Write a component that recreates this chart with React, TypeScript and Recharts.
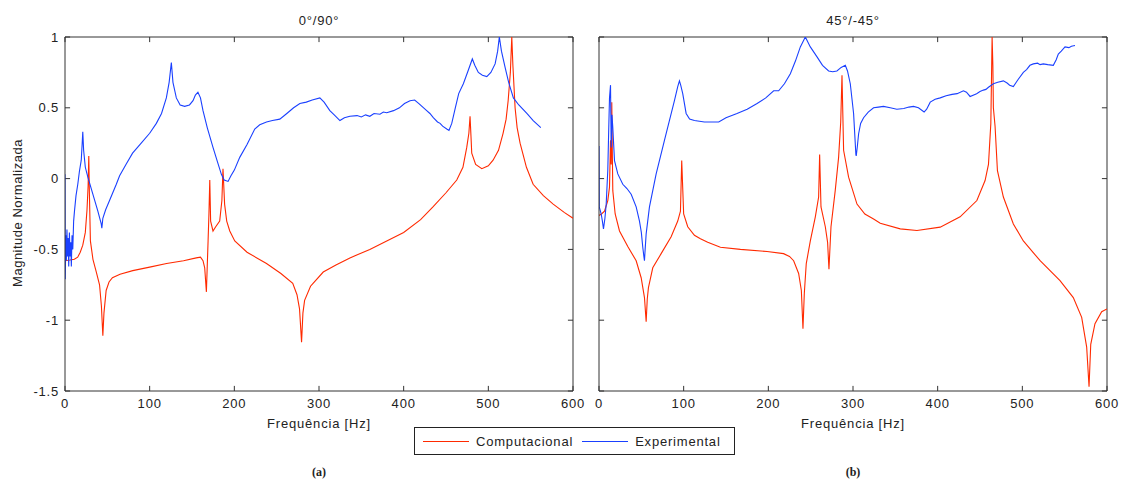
import { Line, LineChart, ReferenceLine, XAxis, YAxis } from 'recharts'

type Pt = [number, number]

const freqTicks = [0, 100, 200, 300, 400, 500, 600]
const magTicks = [-1.5, -1, -0.5, 0, 0.5, 1]
const panelTitles = ['0°/90°', '45°/-45°']
const panelTags = ['(a)', '(b)']
const seriesNames = ['Computacional', 'Experimental']
const seriesColors = ['#ff2a00', '#1a40ff']

// (a) 0°/90° — computed FRF
const compA: Pt[] = [
  [0, -0.58], [6, -0.575], [11, -0.57], [15, -0.555], [18, -0.52], [21, -0.47], [24, -0.38], [26, -0.22],
  [27.3, -0.05], [28.1, 0.16], [28.8, -0.1], [30, -0.44], [33, -0.57], [37, -0.66], [40.8, -0.75], [43, -0.9],
  [44.7, -1.11], [46, -0.95], [48.6, -0.79], [52, -0.73], [56, -0.7], [65, -0.675], [80, -0.65], [100, -0.625],
  [120, -0.6], [140, -0.58], [155, -0.56], [160, -0.555], [163, -0.58], [165, -0.63], [167, -0.8], [168, -0.62],
  [169, -0.44], [170, -0.25], [171, -0.01], [172, -0.3], [174.8, -0.37], [178, -0.34], [182.7, -0.3], [185.3, -0.155],
  [186.6, 0.07], [188.5, -0.18], [191, -0.3], [194.6, -0.37], [200.5, -0.44], [215, -0.52], [238, -0.6], [255, -0.67],
  [269, -0.74], [274, -0.82], [277, -0.92], [279.4, -1.155], [281, -0.95], [283, -0.86], [290, -0.76], [293, -0.74],
  [305, -0.66], [320, -0.61], [336.5, -0.56], [360, -0.5], [380, -0.44], [400, -0.38], [420, -0.29], [434.6, -0.2],
  [450, -0.1], [462.7, -0.01], [470, 0.08], [474.5, 0.22], [477, 0.32], [478.4, 0.44], [479.5, 0.3], [480.4, 0.18],
  [485, 0.1], [492.3, 0.07], [500, 0.09], [505.6, 0.13], [512, 0.2], [517.4, 0.32], [521, 0.42], [523.4, 0.55],
  [526, 0.75], [527.7, 1.0], [529, 0.8], [531.6, 0.5], [534, 0.36], [537.5, 0.25], [545, 0.08], [552.9, -0.04],
  [565, -0.12], [576.6, -0.18], [590, -0.24], [600, -0.28],
]

// (a) 0°/90° — measured FRF
const expA: Pt[] = [
  [0, 0.03], [0.3, -0.71], [1, -0.4], [1.6, -0.58], [2.3, -0.36], [3, -0.55], [3.7, -0.42], [4.4, -0.62],
  [5.2, -0.38], [6, -0.55], [6.8, -0.45], [7.5, -0.62], [8.3, -0.4], [9.2, -0.5], [10.2, -0.3], [11.2, -0.23],
  [13, -0.12], [15.1, -0.04], [17, 0.05], [19.2, 0.13], [20.3, 0.25], [21, 0.33], [22, 0.2], [24, 0.08],
  [27, 0.01], [32.9, -0.11], [38.8, -0.23], [42.8, -0.32], [43.5, -0.35], [44.7, -0.28], [48, -0.22], [52.6, -0.155],
  [60.6, -0.04], [64.5, 0.02], [72, 0.1], [79.8, 0.18], [90, 0.25], [100, 0.32], [107.9, 0.39], [114, 0.46],
  [119.7, 0.57], [123, 0.68], [125.6, 0.82], [127.5, 0.68], [131.5, 0.57], [136, 0.52], [141.3, 0.51], [147, 0.52],
  [151.2, 0.55], [154, 0.59], [157, 0.61], [160, 0.57], [163, 0.48], [168, 0.36], [174.8, 0.22], [180, 0.12],
  [184.7, 0.03], [188, -0.01], [192.6, -0.02], [196, 0.02], [200, 0.06], [206.4, 0.15], [215, 0.24], [224.1, 0.35],
  [230, 0.38], [238, 0.4], [245, 0.41], [253.7, 0.42], [262, 0.46], [270, 0.5], [277.4, 0.53], [285, 0.54],
  [292, 0.555], [301, 0.57], [306, 0.54], [312.8, 0.48], [318, 0.45], [324.7, 0.41], [330, 0.43], [336.5, 0.44],
  [345, 0.445], [350, 0.435], [355, 0.45], [360, 0.44], [365, 0.46], [372, 0.455], [376, 0.47], [380, 0.465],
  [388, 0.48], [395, 0.5], [401, 0.53], [407.5, 0.55], [413, 0.555], [418, 0.53], [427.2, 0.48], [431, 0.46],
  [435, 0.43], [440, 0.4], [443, 0.39], [446, 0.37], [450.9, 0.35], [453.5, 0.34], [456.8, 0.39], [461, 0.5],
  [465, 0.6], [470.5, 0.67], [476, 0.76], [481.1, 0.845], [484, 0.8], [488.2, 0.75], [493, 0.73], [498.2, 0.72],
  [503, 0.75], [508, 0.81], [511, 0.9], [513, 1.0], [515.5, 0.9], [519.8, 0.785], [524, 0.68], [529.6, 0.57],
  [536, 0.52], [545.5, 0.46], [553, 0.41], [562, 0.36],
]

// (b) 45°/-45° — computed FRF
const compB: Pt[] = [
  [0, -0.26], [3, -0.25], [6.5, -0.23], [10.4, -0.155], [12.4, -0.06], [13.6, 0.27], [14.4, 0.1], [15.1, 0.54],
  [15.7, 0.2], [16.3, -0.085], [19.1, -0.25], [24.2, -0.37], [34, -0.48], [43.9, -0.58], [49.8, -0.7], [53.7, -0.84],
  [55.7, -1.01], [57, -0.85], [58.4, -0.77], [63.5, -0.63], [73.4, -0.53], [85.2, -0.41], [93, -0.3], [96.2, -0.23],
  [97.7, 0.127], [100, -0.25], [104.8, -0.34], [112.7, -0.4], [119.8, -0.425], [128.4, -0.45], [143.4, -0.485], [167, -0.5],
  [198.5, -0.515], [218, -0.53], [225, -0.55], [229.9, -0.58], [235.8, -0.67], [239, -0.79], [240.9, -1.06], [242.5, -0.81],
  [244.8, -0.6], [249.6, -0.44], [255.5, -0.27], [259.4, -0.13], [260.6, 0.17], [262.2, -0.2], [267.3, -0.34], [270, -0.45],
  [271.6, -0.64], [274, -0.34], [279, -0.085], [283, 0.15], [285.5, 0.4], [287, 0.73], [288.9, 0.2], [294.8, 0.01],
  [304.7, -0.18], [314, -0.25], [324.3, -0.285], [332.2, -0.315], [355.8, -0.355], [375.5, -0.367], [403, -0.343], [426.5, -0.27],
  [446.3, -0.155], [456, -0.014], [460, 0.1], [462.8, 0.39], [464.3, 1.0], [465.2, 0.8], [465.8, 0.5], [467.8, 0.37],
  [470.6, 0.056], [477.6, -0.13], [489.4, -0.32], [501.2, -0.44], [521, -0.58], [544.5, -0.72], [560.2, -0.84], [570.1, -0.98],
  [576, -1.19], [578.8, -1.47], [580.8, -1.17], [585.8, -1.025], [593.7, -0.94], [600, -0.92],
]

// (b) 45°/-45° — measured FRF
const expB: Pt[] = [
  [0, 0.23], [0.3, -0.2], [2.6, -0.25], [4, -0.3], [5.3, -0.355], [7, -0.28], [8.5, -0.18], [10.4, 0.06],
  [11.5, 0.35], [12.4, 0.57], [13.6, 0.66], [14.4, 0.22], [15.3, 0.45], [16.3, 0.36], [18.3, 0.127], [22.2, 0.033],
  [28.1, -0.04], [33, -0.07], [38, -0.11], [43.9, -0.2], [47.8, -0.3], [50, -0.38], [51.7, -0.485], [53, -0.55],
  [53.7, -0.58], [54.5, -0.5], [55.7, -0.39], [59.6, -0.2], [67.5, 0.033], [77.3, 0.27], [89.1, 0.55], [93, 0.65],
  [95, 0.69], [96.5, 0.66], [98.9, 0.6], [102.9, 0.46], [107, 0.42], [112.7, 0.41], [124.5, 0.4], [136.3, 0.4],
  [141.4, 0.4], [150, 0.43], [163, 0.46], [175, 0.49], [186.7, 0.53], [197, 0.57], [206.3, 0.62], [212.2, 0.62],
  [219, 0.67], [226, 0.74], [232, 0.83], [237.8, 0.93], [243.7, 1.0], [249.6, 0.93], [257.5, 0.86], [264, 0.8],
  [271.2, 0.76], [276, 0.755], [281, 0.76], [286, 0.785], [290.9, 0.8], [293.5, 0.76], [296.8, 0.67], [300.7, 0.46],
  [303.4, 0.17], [303.8, 0.16], [305, 0.22], [306.6, 0.315], [309, 0.39], [312.5, 0.43], [318, 0.47], [324.3, 0.5],
  [330, 0.505], [336, 0.51], [344, 0.5], [351.8, 0.49], [360, 0.495], [366, 0.505], [371.5, 0.51], [377.3, 0.5],
  [384, 0.47], [387, 0.49], [391.2, 0.54], [397, 0.56], [403, 0.57], [410, 0.585], [417, 0.595], [423, 0.6],
  [430.4, 0.62], [434, 0.61], [438.3, 0.58], [446, 0.6], [450, 0.615], [454, 0.625], [457, 0.63], [460, 0.645],
  [465.8, 0.67], [471, 0.68], [477.6, 0.69], [482, 0.675], [485, 0.66], [489.4, 0.65], [495, 0.7], [501.2, 0.75],
  [505, 0.77], [509, 0.8], [513, 0.81], [518, 0.815], [521, 0.805], [524.8, 0.81], [530, 0.805], [536.6, 0.8],
  [540, 0.84], [542.5, 0.88], [546, 0.9], [550.4, 0.93], [555, 0.925], [558, 0.935], [562.2, 0.94],
]

const toRows = (pts: Pt[]) => pts.map(([f, v]) => ({ f, v }))

const FONT = '"Liberation Sans", Arial, sans-serif'
const AXIS = '#333'
const tickText = { fontSize: 13, fill: '#222', fontFamily: FONT }
const F_MIN = 0, F_MAX = 600, M_MIN = -1.5, M_MAX = 1
const TICK_F = 6      // inward tick length in Hz
const TICK_M = 0.036  // inward tick length in magnitude units

function Panel({ comp, exp, width, yWidth, right, showY }: {
  comp: Pt[]; exp: Pt[]; width: number; yWidth: number; right: number; showY: boolean
}) {
  const seg = (a: [number, number], b: [number, number], k: string) => (
    <ReferenceLine key={k} xAxisId="b" yAxisId="l" stroke={AXIS} strokeWidth={1}
      segment={[{ x: a[0], y: a[1] }, { x: b[0], y: b[1] }]} />
  )
  return (
    <LineChart width={width} height={479} margin={{ top: 37, right, bottom: 0, left: 0 }}>
      <XAxis xAxisId="b" dataKey="f" type="number" domain={[F_MIN, F_MAX]} ticks={freqTicks} interval={0}
        height={88} tickSize={0} tickLine={false} tickMargin={8} stroke={AXIS} tick={tickText} allowDataOverflow />
      <YAxis yAxisId="l" type="number" domain={[M_MIN, M_MAX]} ticks={magTicks} interval={0} width={yWidth}
        tickSize={0} tickLine={false} tickMargin={6} stroke={AXIS} tick={showY ? tickText : false} allowDataOverflow />
      {/* box */}
      <ReferenceLine xAxisId="b" yAxisId="l" x={F_MAX} stroke={AXIS} />
      <ReferenceLine xAxisId="b" yAxisId="l" y={M_MAX} stroke={AXIS} />
      {/* inward ticks on all four sides */}
      {freqTicks.map((f) => seg([f, M_MIN], [f, M_MIN + TICK_M], 'bt' + f))}
      {freqTicks.map((f) => seg([f, M_MAX], [f, M_MAX - TICK_M], 'tt' + f))}
      {magTicks.map((m) => seg([F_MIN, m], [F_MIN + TICK_F, m], 'lt' + m))}
      {magTicks.map((m) => seg([F_MAX, m], [F_MAX - TICK_F, m], 'rt' + m))}
      <Line xAxisId="b" yAxisId="l" data={toRows(comp)} dataKey="v" name={seriesNames[0]} type="linear"
        stroke={seriesColors[0]} strokeWidth={1.1} dot={false} isAnimationActive={false} />
      <Line xAxisId="b" yAxisId="l" data={toRows(exp)} dataKey="v" name={seriesNames[1]} type="linear"
        stroke={seriesColors[1]} strokeWidth={1.1} dot={false} isAnimationActive={false} />
    </LineChart>
  )
}

const abs = (left: number, top: number): React.CSSProperties => ({
  position: 'absolute', left, top, transform: 'translate(-50%, -50%)', whiteSpace: 'nowrap',
})

export default function App() {
  const centers = [319, 853]
  return (
    <div style={{ position: 'absolute', left: 0, top: 0, width: 1122, height: 479, background: '#fff',
      fontFamily: FONT, fontSize: 13, color: '#222', letterSpacing: '0.8px', overflow: 'hidden' }}>
      <div style={{ position: 'absolute', left: 0, top: 0 }}>
        <Panel comp={compA} exp={expA} width={600} yWidth={65} right={27} showY />
      </div>
      <div style={{ position: 'absolute', left: 540, top: 0 }}>
        <Panel comp={compB} exp={expB} width={582} yWidth={59} right={15} showY={false} />
      </div>

      {centers.map((cx, i) => (
        <div key={'t' + i}>
          <div style={abs(cx, 20)}>{panelTitles[i]}</div>
          <div style={abs(cx, 423)}>Frequência [Hz]</div>
          <div style={{ ...abs(cx, 472), fontFamily: '"Liberation Serif", serif', fontWeight: 700, fontSize: 12, letterSpacing: 0 }}>
            {panelTags[i]}
          </div>
        </div>
      ))}

      <div style={{ ...abs(17, 213), transform: 'translate(-50%, -50%) rotate(-90deg)', letterSpacing: '0.5px' }}>
        Magnitude Normalizada
      </div>

      <div style={{ position: 'absolute', left: 414, top: 427, width: 319, height: 26, border: '1px solid #222',
        background: '#fff', display: 'flex', alignItems: 'center' }}>
        {seriesNames.map((n, i) => (
          <div key={n} style={{ display: 'flex', alignItems: 'center', marginLeft: i === 0 ? 8 : 9 }}>
            <svg width={46} height={3} style={{ marginRight: 7, display: 'block' }}>
              <line x1={0} y1={1.5} x2={46} y2={1.5} stroke={seriesColors[i]} strokeWidth={1.2} />
            </svg>
            <span>{n}</span>
          </div>
        ))}
      </div>
    </div>
  )
}
